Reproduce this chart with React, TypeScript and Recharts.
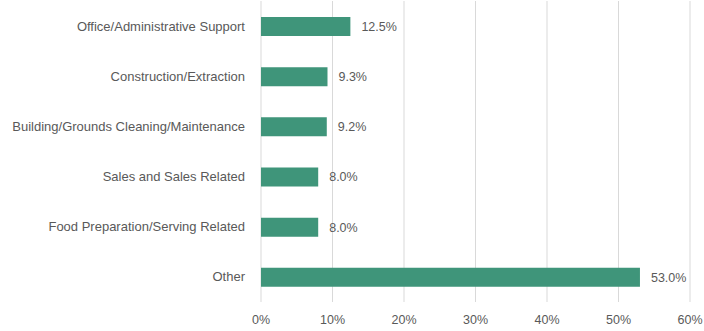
import { Bar, BarChart, CartesianGrid, LabelList, XAxis, YAxis } from "recharts";

const categories = [
  "Office/Administrative Support",
  "Construction/Extraction",
  "Building/Grounds Cleaning/Maintenance",
  "Sales and Sales Related",
  "Food Preparation/Serving Related",
  "Other"
];
const shares = [12.5, 9.3, 9.2, 8.0, 8.0, 53.0];
const xTicks = [0, 10, 20, 30, 40, 50, 60];

const FONT = "'Liberation Sans', Arial, sans-serif";
const TEXT = "#595959";

function CategoryTick({ x, y, payload }: any) {
  return (
    <text x={x - 8} y={y} dy="0.35em" textAnchor="end" fill={TEXT} fontSize={13} fontFamily={FONT}>
      {payload.value}
    </text>
  );
}

function PercentTick({ x, y, payload }: any) {
  return (
    <text x={x} y={y + 10} dy="0.35em" textAnchor="middle" fill={TEXT} fontSize={12.5} fontFamily={FONT}>
      {`${payload.value}%`}
    </text>
  );
}

export default function App() {
  const data = categories.map((name, i) => ({ name, share: shares[i] }));

  return (
    <div style={{ position: "absolute", left: 0, top: 0, width: 704, height: 331, background: "#fff" }}>
      <BarChart
        width={704}
        height={331}
        data={data}
        layout="vertical"
        margin={{ top: 1, right: 14, bottom: 0, left: 0 }}
      >
        <CartesianGrid horizontal={false} stroke="#d9d9d9" />
        <XAxis
          type="number"
          domain={[0, 60]}
          ticks={xTicks}
          axisLine={false}
          tickLine={false}
          height={29}
          tick={<PercentTick />}
          interval={0}
        />
        <YAxis
          type="category"
          dataKey="name"
          width={261}
          axisLine={false}
          tickLine={false}
          tick={<CategoryTick />}
          interval={0}
        />
        <Bar dataKey="share" fill="#3f957a" barSize={19} isAnimationActive={false}>
          <LabelList
            dataKey="share"
            position="right"
            offset={11}
            formatter={(v: any) => `${Number(v).toFixed(1)}%`}
            style={{ fill: TEXT, fontSize: 12.5, fontFamily: FONT }}
          />
        </Bar>
      </BarChart>
    </div>
  );
}
